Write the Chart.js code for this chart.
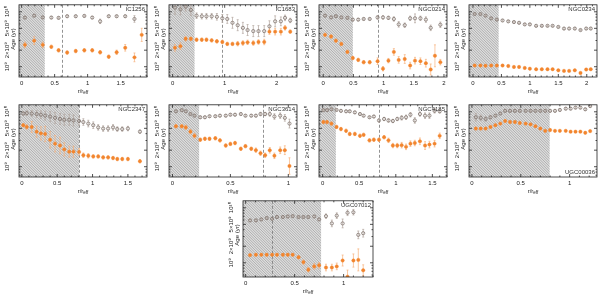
<!DOCTYPE html>
<html>
<head>
<meta charset="utf-8">
<script src="https://cdn.jsdelivr.net/npm/chart.js@4.4.1/dist/chart.umd.min.js"></script>
<style>
html, body { margin: 0; padding: 0; background: #fff; }
#wrap { position: relative; width: 600px; height: 296px; overflow: hidden; }
#wrap canvas { position: absolute; }
</style>
</head>
<body>
<div id="wrap"></div>
<script>
// ages in Gyr, errors in dex; r in units of r_eff
const ic1256R = [0.05, 0.19, 0.32, 0.45, 0.56, 0.69, 0.82, 0.95, 1.07, 1.19, 1.32, 1.44, 1.57, 1.71, 1.82];
const ic1256Old = [7.85, 8.5, 7.9, 7.85, 7.75, 8.3, 8.3, 8.4, 7.85, 6.7, 8.3, 8.3, 8.3, 7.4, null];
const ic1256Young = [2.5, 2.98, 2.5, 2.3, 1.99, 1.81, 1.93, 1.99, 1.99, 1.83, 1.52, 1.83, 2.21, 1.48, 3.8];
const ic1256OldErr = [0.02, 0.02, 0.02, 0.02, 0.02, 0.02, 0.02, 0.02, 0.02, 0.04, 0.02, 0.02, 0.02, 0.06, null];
const ic1256YoungErr = [0.05, 0.07, 0.05, 0.03, 0.03, 0.03, 0.03, 0.03, 0.03, 0.03, 0.03, 0.04, 0.06, 0.08, 0.12];

const ic1683R = [0.045, 0.15, 0.25, 0.35, 0.46, 0.56, 0.65, 0.75, 0.85, 0.955, 1.05, 1.15, 1.25, 1.35, 1.44, 1.55, 1.65, 1.76, 1.86, 1.97, 2.08, 2.16, 2.26];
const ic1683Old = [11.9, 11.1, 12.4, 10.8, 8.5, 8.3, 8.3, 8.3, 8.1, 7.6, 7.4, 6.3, 5.7, 5.1, 4.65, 4.45, 4.45, 4.45, 5.45, 6.7, 6.7, 7.75, 6.95];
const ic1683Young = [2.21, 2.37, 3.22, 3.22, 3.1, 3.1, 3.1, 3.02, 2.9, 2.82, 2.6, 2.6, 2.63, 2.7, 2.78, 2.7, 2.82, 2.82, 4.35, 4.35, 4.35, 5.1, 4.35];
const ic1683OldErr = [0.12, 0.1, 0.08, 0.1, 0.05, 0.05, 0.05, 0.05, 0.06, 0.07, 0.08, 0.1, 0.1, 0.1, 0.1, 0.1, 0.1, 0.1, 0.1, 0.1, 0.08, 0.05, 0.04];
const ic1683YoungErr = [0.06, 0.06, 0.04, 0.03, 0.03, 0.03, 0.03, 0.03, 0.03, 0.03, 0.03, 0.03, 0.04, 0.04, 0.04, 0.04, 0.04, 0.05, 0.05, 0.06, 0.06, 0.04, 0.03];

const ngc0214R = [0.03, 0.13, 0.21, 0.30, 0.40, 0.49, 0.58, 0.67, 0.77, 0.90, 0.99, 1.08, 1.17, 1.25, 1.35, 1.44, 1.52, 1.61, 1.70, 1.78, 1.85, 1.94];
const ngc0214Old = [8.5, 7.9, 8.3, 7.9, 7.75, 7.2, 7.2, 7.4, 7.4, 7.9, 7.9, 7.75, 7.4, 5.9, 5.7, 7.6, 7.6, 7.6, 7.2, 5.1, null, 5.8];
const ngc0214Young = [3.8, 3.55, 2.98, 2.6, 1.86, 1.44, 1.33, 1.21, 1.21, 1.26, 0.92, 1.29, 1.86, 1.33, 1.38, 1.05, 1.29, 1.26, 1.16, 0.89, 1.58, 1.21];
const ngc0214OldErr = [0.02, 0.02, 0.02, 0.02, 0.02, 0.02, 0.02, 0.02, 0.02, 0.03, 0.03, 0.03, 0.04, 0.05, 0.04, 0.04, 0.08, 0.04, 0.05, 0.05, null, 0.05];
const ngc0214YoungErr = [0.03, 0.03, 0.03, 0.03, 0.03, 0.03, 0.03, 0.03, 0.03, 0.06, 0.04, 0.04, 0.06, 0.06, 0.08, 0.06, 0.06, 0.06, 0.07, 0.1, 0.2, 0.05];

const ngc0234R = [0.03, 0.13, 0.22, 0.32, 0.42, 0.52, 0.62, 0.72, 0.81, 0.91, 1.0, 1.11, 1.21, 1.31, 1.40, 1.50, 1.60, 1.69, 1.79, 1.89, 1.99, 2.07];
const ngc0234Old = [9.1, 9.1, 8.5, 7.6, 7.2, 6.95, 6.7, 6.5, 6.3, 5.9, 5.9, 5.55, 5.55, 5.55, 5.55, 5.3, 4.95, 4.95, 4.95, 4.65, 4.95, 4.95];
const ngc0234Young = [1.05, 1.05, 1.04, 1.05, 1.05, 1.05, 1.03, 0.99, 0.99, 0.95, 0.92, 0.9, 0.9, 0.9, 0.9, 0.86, 0.84, 0.84, 0.86, 0.77, 0.89, 0.9];
const ngc0234OldErr = [0.015, 0.015, 0.015, 0.015, 0.015, 0.015, 0.015, 0.015, 0.015, 0.015, 0.015, 0.015, 0.015, 0.015, 0.015, 0.015, 0.015, 0.015, 0.015, 0.015, 0.015, 0.015];
const ngc0234YoungErr = [0.015, 0.015, 0.015, 0.015, 0.015, 0.015, 0.015, 0.015, 0.015, 0.015, 0.015, 0.015, 0.015, 0.015, 0.015, 0.015, 0.015, 0.015, 0.015, 0.015, 0.015, 0.015];

const ngc2347R = [0.02, 0.07, 0.14, 0.21, 0.27, 0.33, 0.40, 0.47, 0.54, 0.60, 0.67, 0.73, 0.81, 0.87, 0.94, 1.01, 1.08, 1.15, 1.22, 1.29, 1.35, 1.42, 1.50, 1.67];
const ngc2347Old = [9.3, 9.45, 9.3, 9.1, 8.85, 8.5, 8.2, 7.75, 7.4, 7.15, 7.15, 6.95, 6.8, 6.5, 6.1, 5.7, 5.2, 4.95, 4.95, 5.2, 4.85, 4.85, 4.95, 4.35];
const ngc2347Young = [5.7, 5.3, 5.3, 4.35, 4.05, 3.95, 3.1, 2.63, 2.43, 2.07, 1.88, 1.88, 1.86, 1.62, 1.58, 1.54, 1.54, 1.48, 1.48, 1.44, 1.38, 1.38, 1.38, 1.26];
const ngc2347OldErr = [0.03, 0.04, 0.05, 0.06, 0.07, 0.08, 0.09, 0.1, 0.1, 0.1, 0.1, 0.1, 0.08, 0.06, 0.06, 0.06, 0.05, 0.05, 0.05, 0.05, 0.04, 0.04, 0.04, 0.03];
const ngc2347YoungErr = [0.03, 0.04, 0.1, 0.1, 0.12, 0.14, 0.15, 0.15, 0.15, 0.12, 0.1, 0.1, 0.06, 0.04, 0.04, 0.03, 0.03, 0.03, 0.03, 0.03, 0.03, 0.03, 0.03, 0.03];

const ngc3614R = [0.03, 0.08, 0.115, 0.155, 0.19, 0.24, 0.28, 0.32, 0.37, 0.41, 0.46, 0.50, 0.54, 0.59, 0.63, 0.68, 0.72, 0.76, 0.80, 0.84, 0.88, 0.93, 0.97, 1.01];
const ngc3614Old = [10.2, 10.7, 10.2, 9.1, 8.5, 7.95, 7.95, 8.3, 8.3, 8.5, 8.5, 8.85, 8.85, 9.1, 8.5, 8.5, 8.5, 9.1, 9.1, 9.1, 8.2, 8.5, 7.75, 6.1];
const ngc3614Young = [5.45, 5.45, 5.2, 4.35, 3.65, 3.1, 3.22, 3.22, 3.3, 3.02, 2.43, 2.6, 2.7, 2.12, 2.37, 2.12, 2.0, 1.76, 1.62, 1.99, 1.58, 1.99, 2.0, 1.03];
const ngc3614OldErr = [0.02, 0.02, 0.02, 0.02, 0.02, 0.02, 0.02, 0.02, 0.02, 0.02, 0.02, 0.02, 0.02, 0.02, 0.02, 0.02, 0.02, 0.03, 0.03, 0.04, 0.05, 0.05, 0.06, 0.08];
const ngc3614YoungErr = [0.03, 0.03, 0.04, 0.04, 0.04, 0.03, 0.03, 0.03, 0.03, 0.03, 0.03, 0.03, 0.03, 0.03, 0.03, 0.03, 0.04, 0.04, 0.04, 0.05, 0.05, 0.06, 0.08, 0.15];

const ngc4185R = [0.01, 0.06, 0.12, 0.19, 0.25, 0.32, 0.37, 0.44, 0.51, 0.56, 0.64, 0.70, 0.77, 0.84, 0.90, 0.96, 1.02, 1.08, 1.14, 1.20, 1.26, 1.33, 1.40, 1.46, 1.53, 1.60];
const ngc4185Old = [10.7, 10.7, 11.1, 10.8, 10.4, 10.2, 10.2, 9.75, 9.1, 8.5, 7.95, 8.2, 6.95, 7.4, 6.95, 6.8, 7.4, 7.75, 7.95, 8.85, 6.95, 9.1, 8.5, 8.5, 10.4, 10.2];
const ngc4185Young = [6.5, 6.5, 6.1, 5.3, 4.85, 4.5, 3.95, 3.95, 3.65, 3.8, 3.02, 3.1, 3.1, 3.45, 3.02, 2.43, 2.43, 2.47, 2.3, 2.63, 2.7, 2.9, 2.43, 2.53, 2.63, 3.65];
const ngc4185OldErr = [0.02, 0.02, 0.02, 0.02, 0.02, 0.02, 0.02, 0.02, 0.02, 0.02, 0.02, 0.02, 0.03, 0.03, 0.03, 0.03, 0.03, 0.04, 0.04, 0.04, 0.05, 0.04, 0.05, 0.05, 0.04, 0.03];
const ngc4185YoungErr = [0.03, 0.03, 0.03, 0.03, 0.03, 0.03, 0.03, 0.03, 0.03, 0.03, 0.03, 0.03, 0.03, 0.03, 0.04, 0.04, 0.04, 0.05, 0.05, 0.05, 0.05, 0.06, 0.07, 0.06, 0.06, 0.05];

const ugc00036R = [0.04, 0.09, 0.14, 0.19, 0.24, 0.29, 0.34, 0.39, 0.44, 0.49, 0.55, 0.60, 0.65, 0.70, 0.75, 0.80, 0.85, 0.90, 0.96, 1.01, 1.06, 1.11, 1.16, 1.21];
const ugc00036Old = [7.95, 7.75, 7.4, 7.95, 8.5, 9.3, 10.4, 10.4, 10.4, 10.4, 10.4, 10.4, 10.4, 10.4, 10.4, 10.4, 10.4, 10.8, 11.4, 11.4, 11.9, 11.9, 11.1, 12.7];
const ugc00036Young = [4.95, 4.95, 4.95, 5.3, 5.7, 6.1, 6.8, 6.5, 6.5, 6.25, 6.1, 5.9, 5.45, 4.95, 4.5, 4.65, 4.5, 4.5, 4.5, 4.35, 4.35, 4.35, 4.15, 4.45];
const ugc00036OldErr = [0.07, 0.05, 0.04, 0.03, 0.02, 0.02, 0.02, 0.02, 0.02, 0.02, 0.02, 0.02, 0.02, 0.02, 0.02, 0.02, 0.02, 0.02, 0.02, 0.02, 0.02, 0.02, 0.02, 0.02];
const ugc00036YoungErr = [0.02, 0.02, 0.02, 0.02, 0.02, 0.02, 0.02, 0.02, 0.02, 0.02, 0.02, 0.02, 0.02, 0.02, 0.02, 0.02, 0.02, 0.02, 0.02, 0.02, 0.02, 0.02, 0.02, 0.02];

const ugc07012R = [0.045, 0.105, 0.16, 0.215, 0.27, 0.32, 0.38, 0.43, 0.48, 0.54, 0.59, 0.64, 0.70, 0.75, 0.82, 0.88, 0.93, 0.99, 1.04, 1.10, 1.15, 1.20];
const ugc07012Old = [5.9, 5.9, 6.15, 6.5, 6.3, 6.8, 6.8, 6.95, 7.05, 6.8, 6.8, 6.8, 6.95, 6.15, 7.05, 5.2, 7.2, 5.2, 8.1, 8.3, 3.22, 3.45];
const ugc07012Young = [1.38, 1.4, 1.4, 1.4, 1.4, 1.4, 1.4, 1.4, 1.4, 1.26, 1.03, 0.75, 0.86, 0.9, 0.82, 0.82, 0.86, 1.1, 0.56, 1.1, 1.13, 0.73];
const ugc07012OldErr = [0.02, 0.02, 0.02, 0.02, 0.02, 0.02, 0.02, 0.02, 0.02, 0.02, 0.02, 0.02, 0.02, 0.02, 0.04, 0.06, 0.05, 0.08, 0.05, 0.05, 0.07, 0.07];
const ugc07012YoungErr = [0.02, 0.02, 0.02, 0.02, 0.02, 0.02, 0.02, 0.02, 0.02, 0.03, 0.04, 0.04, 0.05, 0.05, 0.06, 0.06, 0.06, 0.1, 0.12, 0.12, 0.2, 0.1];

const yTickValues = [1, 2, 5, 10];
const yTickLabels = ['10\u2079', '2\u00d710\u2079', '5\u00d710\u2079', '10\u00b9\u2070'];

const panels = [
  { name: 'IC1256', r: ic1256R, old: ic1256Old, young: ic1256Young, oldErr: ic1256OldErr, youngErr: ic1256YoungErr,
    xMin: -0.04, xMax: 1.9, xTicks: [0, 0.5, 1, 1.5], hatch: 0.35, dash: 0.61, box: [19, 2, 128, 75], yMin: 0.65, yMax: 13.4 },
  { name: 'IC1683', r: ic1683R, old: ic1683Old, young: ic1683Young, oldErr: ic1683OldErr, youngErr: ic1683YoungErr,
    xMin: -0.07, xMax: 2.39, xTicks: [0, 1, 2], hatch: 0.42, dash: 0.94, box: [169, 2, 128, 75], yMin: 0.65, yMax: 13.4 },
  { name: 'NGC0214', r: ngc0214R, old: ngc0214Old, young: ngc0214Young, oldErr: ngc0214OldErr, youngErr: ngc0214YoungErr,
    xMin: -0.07, xMax: 2.05, xTicks: [0, 0.5, 1, 1.5, 2], hatch: 0.49, dash: 0.9, box: [319, 2, 128, 75], yMin: 0.65, yMax: 13.4 },
  { name: 'NGC0234', r: ngc0234R, old: ngc0234Old, young: ngc0234Young, oldErr: ngc0234OldErr, youngErr: ngc0234YoungErr,
    xMin: -0.07, xMax: 2.18, xTicks: [0, 0.5, 1, 1.5, 2], hatch: 0.45, dash: null, box: [469, 2, 128, 75], yMin: 0.65, yMax: 13.4 },
  { name: 'NGC2347', r: ngc2347R, old: ngc2347Old, young: ngc2347Young, oldErr: ngc2347OldErr, youngErr: ngc2347YoungErr,
    xMin: -0.04, xMax: 1.77, xTicks: [0, 0.5, 1, 1.5], hatch: 0.81, dash: 0.81, box: [19, 102, 128, 75], yMin: 0.65, yMax: 13.4 },
  { name: 'NGC3614', r: ngc3614R, old: ngc3614Old, young: ngc3614Young, oldErr: ngc3614OldErr, youngErr: ngc3614YoungErr,
    xMin: -0.03, xMax: 1.075, xTicks: [0, 0.5, 1], hatch: 0.23, dash: 0.78, box: [169, 102, 128, 75], yMin: 0.65, yMax: 13.4 },
  { name: 'NGC4185', r: ngc4185R, old: ngc4185Old, young: ngc4185Young, oldErr: ngc4185OldErr, youngErr: ngc4185YoungErr,
    xMin: -0.05, xMax: 1.70, xTicks: [0, 0.5, 1, 1.5], hatch: 0.18, dash: 0.77, box: [319, 102, 128, 75], yMin: 0.65, yMax: 13.4 },
  { name: 'UGC00036', r: ugc00036R, old: ugc00036Old, young: ugc00036Young, oldErr: ugc00036OldErr, youngErr: ugc00036YoungErr,
    xMin: -0.03, xMax: 1.28, xTicks: [0, 0.5, 1], hatch: 0.795, dash: null, box: [469, 102, 128, 75], yMin: 0.65, yMax: 13.4, nameBottom: true },
  { name: 'UGC07012', r: ugc07012R, old: ugc07012Old, young: ugc07012Young, oldErr: ugc07012OldErr, youngErr: ugc07012YoungErr,
    xMin: -0.027, xMax: 1.30, xTicks: [0, 0.5, 1], hatch: 0.77, dash: 0.27, box: [243, 198, 130, 79], yMin: 0.552, yMax: 13.4 }
];

const FONT = '"Liberation Sans", Arial, sans-serif';
const PAD_L = 19, PAD_T = 2, PAD_R = 6, PAD_B = 20;
const ORANGE = '#f2852e';
const GREY = '#7f726c';
const wrap = document.getElementById('wrap');

function decor(p) {
  return {
    id: 'decor',
    beforeDatasetsDraw(chart) {
      const { ctx, chartArea: a, scales: { x, y } } = chart;
      ctx.save();
      ctx.beginPath();
      ctx.rect(a.left, a.top, a.width, a.height);
      ctx.clip();
      // hatched region
      const hx = x.getPixelForValue(p.hatch);
      ctx.fillStyle = '#dddddd';
      ctx.fillRect(a.left, a.top, hx - a.left, a.height);
      ctx.save();
      ctx.beginPath();
      ctx.rect(a.left, a.top, hx - a.left, a.height);
      ctx.clip();
      ctx.strokeStyle = '#9c9c9c';
      ctx.lineWidth = 0.7;
      ctx.beginPath();
      for (let s = a.left - a.height; s < hx; s += 2.6) {
        ctx.moveTo(s, a.top);
        ctx.lineTo(s + a.height, a.bottom);
      }
      ctx.stroke();
      ctx.restore();
      // dashed marker
      if (p.dash != null) {
        const dx = Math.round(x.getPixelForValue(p.dash)) + 0.5;
        ctx.strokeStyle = '#777';
        ctx.lineWidth = 0.8;
        ctx.setLineDash([3, 2]);
        ctx.beginPath();
        ctx.moveTo(dx, a.top);
        ctx.lineTo(dx, a.bottom);
        ctx.stroke();
        ctx.setLineDash([]);
      }
      // error bars
      [[p.old, p.oldErr, '#b1a59e'], [p.young, p.youngErr, '#f7b27c']].forEach(([vals, errs, col]) => {
        ctx.strokeStyle = col;
        ctx.lineWidth = 0.7;
        ctx.beginPath();
        vals.forEach((v, i) => {
          if (v == null || errs[i] == null) return;
          const px = x.getPixelForValue(p.r[i]);
          const f = Math.pow(10, errs[i]);
          const y1 = y.getPixelForValue(v / f);
          const y2 = y.getPixelForValue(v * f);
          ctx.moveTo(px, y1); ctx.lineTo(px, y2);
          ctx.moveTo(px - 1, y1); ctx.lineTo(px + 1, y1);
          ctx.moveTo(px - 1, y2); ctx.lineTo(px + 1, y2);
        });
        ctx.stroke();
      });
      ctx.restore();
    },
    afterDraw(chart) {
      const { ctx, chartArea: a, scales: { x, y } } = chart;
      ctx.save();
      ctx.strokeStyle = '#222';
      ctx.lineWidth = 0.8;
      ctx.strokeRect(a.left, a.top, a.width, a.height);
      ctx.beginPath();
      const n0 = Math.ceil(p.xMin * 10), n1 = Math.floor(p.xMax * 10);
      for (let k = n0; k <= n1; k++) {
        const v = k / 10;
        const px = x.getPixelForValue(v);
        const len = p.xTicks.some(t => Math.abs(t - v) < 1e-6) ? 3 : 1.5;
        ctx.moveTo(px, a.bottom); ctx.lineTo(px, a.bottom - len);
        ctx.moveTo(px, a.top); ctx.lineTo(px, a.top + len);
      }
      [0.6, 0.7, 0.8, 0.9, 1, 2, 3, 4, 5, 6, 7, 8, 9, 10].forEach(v => {
        if (v < p.yMin || v > p.yMax) return;
        const py = y.getPixelForValue(v);
        const len = yTickValues.includes(v) ? 3 : 1.5;
        ctx.moveTo(a.left, py); ctx.lineTo(a.left + len, py);
        ctx.moveTo(a.right, py); ctx.lineTo(a.right - len, py);
      });
      ctx.stroke();

      ctx.fillStyle = '#222';
      ctx.font = '6px ' + FONT;
      ctx.textAlign = 'center';
      ctx.textBaseline = 'middle';
      yTickValues.forEach((v, i) => {
        ctx.save();
        ctx.translate(a.left - 12, y.getPixelForValue(v));
        ctx.rotate(-Math.PI / 2);
        ctx.fillText(yTickLabels[i], 0, 0);
        ctx.restore();
      });
      ctx.save();
      ctx.translate(a.left - 5.5, y.getPixelForValue(3.2));
      ctx.rotate(-Math.PI / 2);
      ctx.fillText('Age (yr)', 0, 0);
      ctx.restore();

      // x title r/r_eff
      const cx = (a.left + a.right) / 2, ty = a.bottom + 14;
      ctx.textAlign = 'left';
      ctx.font = '6px ' + FONT;
      const w1 = ctx.measureText('r/r').width;
      ctx.font = '4.5px ' + FONT;
      const w2 = ctx.measureText('eff').width;
      const sx = cx - (w1 + w2) / 2;
      ctx.font = '6px ' + FONT;
      ctx.fillText('r/r', sx, ty);
      ctx.font = '4.5px ' + FONT;
      ctx.fillText('eff', sx + w1, ty + 2);

      // galaxy name
      ctx.font = '6px ' + FONT;
      ctx.textAlign = 'right';
      ctx.fillStyle = '#333';
      if (p.nameBottom) ctx.fillText(p.name, a.right - 2, a.bottom - 5);
      else ctx.fillText(p.name, a.right - 2, a.top + 5);
      ctx.restore();
    }
  };
}

panels.forEach(p => {
  const cv = document.createElement('canvas');
  const W = p.box[2] + PAD_L + PAD_R, H = p.box[3] + PAD_T + PAD_B;
  cv.width = W; cv.height = H;
  cv.style.width = W + 'px'; cv.style.height = H + 'px';
  cv.style.left = (p.box[0] - PAD_L) + 'px';
  cv.style.top = (p.box[1] - PAD_T) + 'px';
  wrap.appendChild(cv);

  const pts = vals => p.r.map((r, i) => ({ x: r, y: vals[i] })).filter(d => d.y != null);

  new Chart(cv, {
    type: 'scatter',
    data: {
      datasets: [
        { label: 'old', data: pts(p.old), pointStyle: 'circle', pointRadius: 1.6, borderWidth: 0.8,
          borderColor: GREY, backgroundColor: 'rgba(255,255,255,0)' },
        { label: 'young', data: pts(p.young), pointStyle: 'circle', pointRadius: 1.7, borderWidth: 0.4,
          borderColor: ORANGE, backgroundColor: ORANGE }
      ]
    },
    options: {
      responsive: false,
      animation: false,
      events: [],
      devicePixelRatio: 1,
      layout: { padding: { left: 0, top: PAD_T, right: PAD_R, bottom: 0 } },
      plugins: { legend: { display: false }, tooltip: { enabled: false } },
      scales: {
        x: {
          type: 'linear', min: p.xMin, max: p.xMax,
          grid: { display: false, drawTicks: false },
          border: { display: false },
          afterBuildTicks: s => { s.ticks = p.xTicks.map(v => ({ value: v })); },
          afterFit: s => { s.height = PAD_B; },
          ticks: { font: { size: 6, family: FONT }, color: '#222', padding: 3, maxRotation: 0,
                   callback: v => String(v) }
        },
        y: {
          type: 'logarithmic', min: p.yMin, max: p.yMax,
          grid: { display: false, drawTicks: false },
          border: { display: false },
          ticks: { display: false },
          afterFit: s => { s.width = PAD_L; }
        }
      }
    },
    plugins: [decor(p)]
  });
});
</script>
</body>
</html>
